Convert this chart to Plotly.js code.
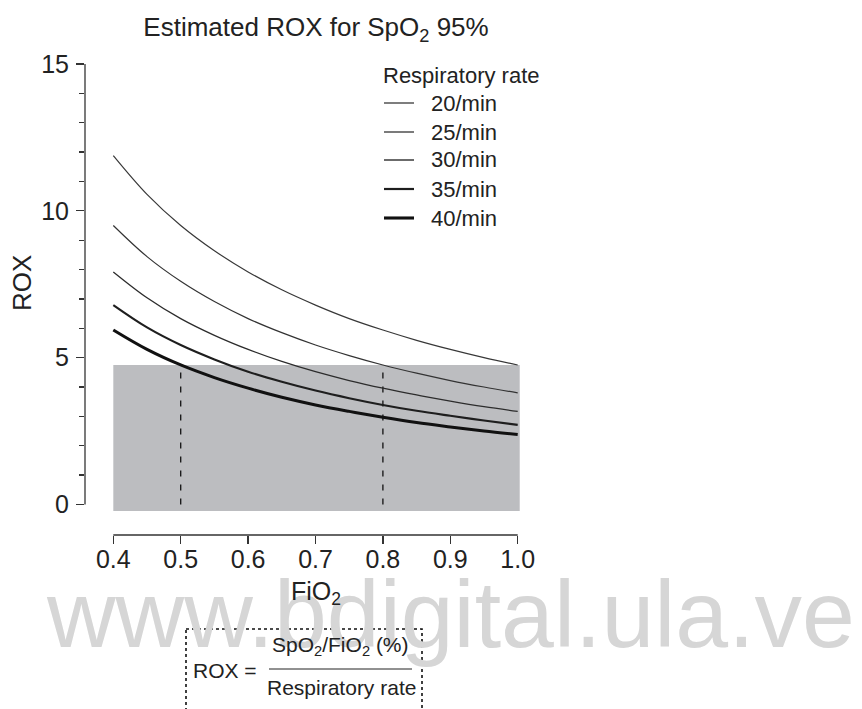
<!DOCTYPE html>
<html>
<head>
<meta charset="utf-8">
<script src="https://cdn.plot.ly/plotly-3.0.1.min.js"></script>
<style>html,body{margin:0;padding:0;background:#fff;}#chart{width:862px;height:709px;}</style>
</head>
<body>
<div id="chart"></div>
<script>
// ---- data ----
const fio2 = [0.40, 0.45, 0.50, 0.55, 0.60, 0.65, 0.70, 0.75, 0.80, 0.85, 0.90, 0.95, 1.00];
const rox20 = [11.88, 10.56, 9.50, 8.64, 7.92, 7.31, 6.79, 6.33, 5.94, 5.59, 5.28, 5.00, 4.75];
const rox25 = [9.50, 8.44, 7.60, 6.91, 6.33, 5.85, 5.43, 5.07, 4.75, 4.47, 4.22, 4.00, 3.80];
const rox30 = [7.92, 7.04, 6.33, 5.76, 5.28, 4.87, 4.52, 4.22, 3.96, 3.73, 3.52, 3.33, 3.17];
const rox35 = [6.79, 6.03, 5.43, 4.94, 4.52, 4.18, 3.88, 3.62, 3.39, 3.19, 3.02, 2.86, 2.71];
const rox40 = [5.94, 5.28, 4.75, 4.32, 3.96, 3.65, 3.39, 3.17, 2.97, 2.79, 2.64, 2.50, 2.38];
const seriesNames = ['20/min', '25/min', '30/min', '35/min', '40/min'];
const roxThreshold = 4.75;
const refFiO2 = [0.5, 0.8];
const shadedFiO2 = [0.4, 1.0];
const xTickVals = [0.4, 0.5, 0.6, 0.7, 0.8, 0.9, 1.0];
const xTickText = ['0.4', '0.5', '0.6', '0.7', '0.8', '0.9', '1.0'];
const yTickVals = [0, 5, 10, 15];
const yMinorVals = [1, 2, 3, 4, 6, 7, 8, 9, 11, 12, 13, 14];

// ---- style ----
const FONT = '"Liberation Sans", Arial, Helvetica, sans-serif';
const TXT = '#222';
const widths = [1.2, 1.2, 1.3, 2.1, 3.0];
const colors = ['#383838', '#333', '#2c2c2c', '#1e1e1e', '#111'];
const W = 862, H = 709;
const M = {l: 85, r: 341, t: 64, b: 174};
const PW = W - M.l - M.r, PH = H - M.t - M.b;
const px = x => (x - M.l) / PW;
const py = y => (H - M.b - y) / PH;

const allRox = [rox20, rox25, rox30, rox35, rox40];
const traces = [];
refFiO2.forEach(v => {
  traces.push({x: [v, v], y: [0, roxThreshold], mode: 'lines', showlegend: false, hoverinfo: 'skip',
    line: {color: '#111', width: 1.3, dash: '6px,8px'}});
});
allRox.forEach((ys, i) => {
  traces.push({x: fio2, y: ys, name: seriesNames[i], mode: 'lines', showlegend: false,
    line: {color: colors[i], width: widths[i], shape: 'spline', smoothing: 1}});
});

const shapes = [
  {type: 'rect', xref: 'x', yref: 'y', x0: shadedFiO2[0], x1: shadedFiO2[1] + 0.003, y0: -0.22, y1: roxThreshold,
    fillcolor: '#bcbdc0', line: {width: 0}, layer: 'below'},
  {type: 'line', xref: 'paper', yref: 'y', x0: 0, x1: 0, y0: 0, y1: 15, line: {color: '#333', width: 1.3}},
  {type: 'line', xref: 'x', yref: 'paper', x0: xTickVals[0], x1: xTickVals[xTickVals.length - 1], y0: 0, y1: 0, line: {color: '#333', width: 1.3}},
  // formula box
  {type: 'rect', xref: 'paper', yref: 'paper', x0: px(186), x1: px(422), y0: py(629), y1: py(725),
    line: {color: '#111', width: 1.6, dash: 'dot'}, fillcolor: 'rgba(0,0,0,0)'},
  {type: 'line', xref: 'paper', yref: 'paper', x0: px(269), x1: px(412), y0: py(669), y1: py(669), line: {color: '#222', width: 1}}
];

const legendY = [103, 132, 160, 189, 218];
const annotations = [
  {text: 'www.bdigital.ula.ve', xref: 'paper', yref: 'paper', x: px(450), y: py(614), xanchor: 'center', yanchor: 'middle',
    showarrow: false, font: {family: FONT, size: 95, color: '#d6d6d6'}},
  {text: 'ROX', xref: 'paper', yref: 'paper', x: px(22), y: py(283), textangle: -90, xanchor: 'center', yanchor: 'middle',
    showarrow: false, font: {family: FONT, size: 26, color: TXT}},
  {text: 'FiO<sub>2</sub>', xref: 'paper', yref: 'paper', x: px(316), y: py(593), xanchor: 'center', yanchor: 'middle',
    showarrow: false, font: {family: FONT, size: 25, color: TXT}},
  {text: 'Respiratory rate', xref: 'paper', yref: 'paper', x: px(381), y: py(75), xanchor: 'left', yanchor: 'middle',
    showarrow: false, font: {family: FONT, size: 22, color: TXT}},
  {text: 'SpO<sub>2</sub>/FiO<sub>2</sub> (%)', xref: 'paper', yref: 'paper', x: px(340), y: py(646), xanchor: 'center', yanchor: 'middle',
    showarrow: false, font: {family: FONT, size: 21, color: TXT}},
  {text: 'ROX =', xref: 'paper', yref: 'paper', x: px(191), y: py(670), xanchor: 'left', yanchor: 'middle',
    showarrow: false, font: {family: FONT, size: 21, color: TXT}},
  {text: 'Respiratory rate', xref: 'paper', yref: 'paper', x: px(341), y: py(687), xanchor: 'center', yanchor: 'middle',
    showarrow: false, font: {family: FONT, size: 21, color: TXT}}
];
seriesNames.forEach((n, i) => {
  shapes.push({type: 'line', xref: 'paper', yref: 'paper', x0: px(384), x1: px(414), y0: py(legendY[i]), y1: py(legendY[i]),
    line: {color: colors[i], width: widths[i] + 0.1}});
  annotations.push({text: n, xref: 'paper', yref: 'paper', x: px(429), y: py(legendY[i]), xanchor: 'left', yanchor: 'middle',
    showarrow: false, font: {family: FONT, size: 22, color: TXT}});
});

const layout = {
  width: W, height: H,
  margin: M,
  paper_bgcolor: '#fff', plot_bgcolor: '#fff',
  font: {family: FONT, color: TXT},
  showlegend: false,
  title: {text: 'Estimated ROX for SpO<sub>2</sub> 95%', xref: 'container', yref: 'container',
    x: 316 / W, xanchor: 'center', y: 1 - 27 / H, yanchor: 'middle', font: {family: FONT, size: 26, color: TXT}},
  xaxis: {range: [0.358, 1.0049], tickvals: xTickVals, ticktext: xTickText, ticks: 'outside', ticklen: 8,
    tickwidth: 1.3, tickcolor: '#333', showline: false, zeroline: false, showgrid: false, ticklabelstandoff: -6,
    tickfont: {family: FONT, size: 25, color: TXT}, fixedrange: true},
  yaxis: {range: [-1.04, 15], tickvals: yTickVals, ticks: 'outside', ticklen: 8, tickwidth: 1.3, tickcolor: '#333',
    minor: {tickvals: yMinorVals, ticks: 'outside', ticklen: 5, tickwidth: 1.3, tickcolor: '#333'},
    showline: false, zeroline: false, showgrid: false, ticklabelstandoff: 2,
    tickfont: {family: FONT, size: 25, color: TXT}, fixedrange: true},
  shapes: shapes,
  annotations: annotations
};

Plotly.newPlot('chart', traces, layout, {displayModeBar: false, staticPlot: true});
</script>
</body>
</html>
